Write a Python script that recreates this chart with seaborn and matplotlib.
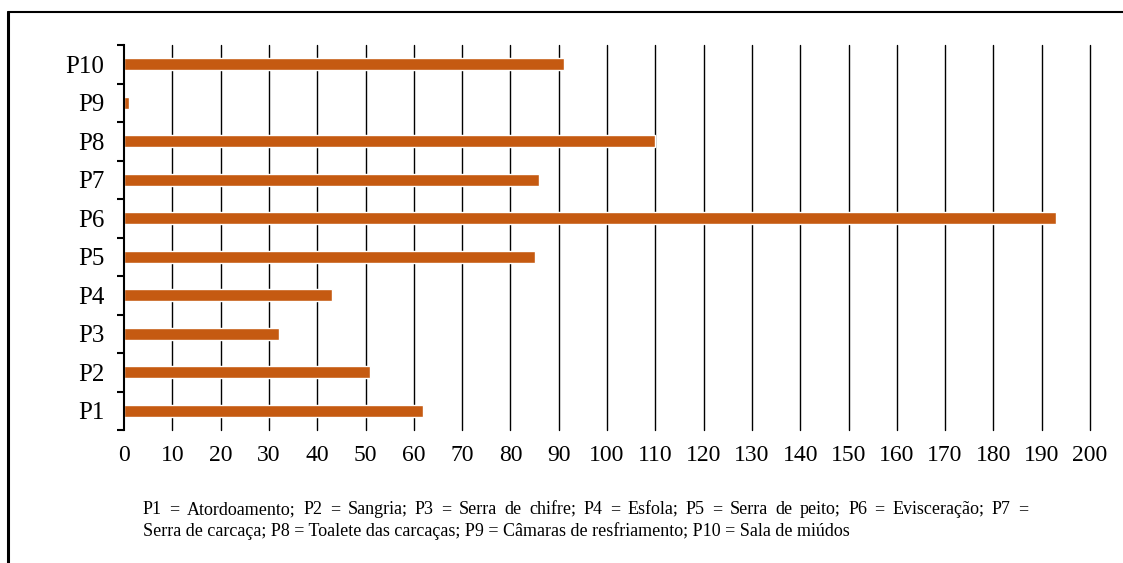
import matplotlib
matplotlib.use("Agg")
import matplotlib.pyplot as plt
from matplotlib.lines import Line2D
import seaborn as sns
import pandas as pd
import numpy as np

# Points along the slaughter line and their measured values
categories = ["P10", "P9", "P8", "P7", "P6", "P5", "P4", "P3", "P2", "P1"]
values = [91, 1, 110, 86, 193, 85, 43, 32, 51, 62]
x_ticks = list(range(0, 201, 10))
footnote_lines = [
    "P1 = Atordoamento; P2 = Sangria; P3 = Serra de chifre; P4 = Esfola; P5 = Serra de peito; P6 = Evisceração; P7 =",
    "Serra de carcaça; P8 = Toalete das carcaças; P9 = Câmaras de resfriamento; P10 = Sala de miúdos",
]

sns.set_style("white")
plt.rcParams["font.family"] = ["Liberation Serif", "DejaVu Serif"]
plt.rcParams["text.color"] = "black"

df = pd.DataFrame({"ponto": categories, "valor": values})

W, H = 1123, 563
fig = plt.figure(figsize=(W / 100, H / 100), dpi=100)
ax = fig.add_axes([124 / W, 1 - 430 / H, (1090 - 124) / W, (430 - 45) / H])

sns.barplot(data=df, x="valor", y="ponto", order=categories, orient="h",
            color="#C55A11", saturation=1, width=0.3, ax=ax, zorder=3)

ax.set_xlim(0, 200)
ax.set_ylim(len(categories) - 0.5, -0.5)
ax.set_xticks(x_ticks)
ax.set_xticklabels([str(t) for t in x_ticks], fontsize=17, color="black")
ax.tick_params(axis="x", length=0, pad=11)

# category labels without marks; marks sit on the category boundaries
ax.set_yticks(np.arange(len(categories)))
ax.set_yticklabels(categories, fontsize=18, color="black")
ax.tick_params(axis="y", which="major", left=False, length=0, pad=14)
ax.set_yticks(np.arange(len(categories) + 1) - 0.5, minor=True)
ax.tick_params(axis="y", which="minor", left=True, length=5, width=1.5,
               color="black", direction="out")

ax.set_xlabel("")
ax.set_ylabel("")

ax.grid(False)
for t in x_ticks[1:]:
    ax.axvline(t, color="black", linewidth=1, zorder=1, clip_on=False)

for side in ["top", "right", "bottom"]:
    ax.spines[side].set_visible(False)
ax.spines["left"].set_color("black")
ax.spines["left"].set_linewidth(1.5)
ax.spines["left"].set_zorder(4)

# outer frame (top and left edges)
fig.add_artist(Line2D([8 / W, 8 / W], [0, 1 - 12 / H], color="black", linewidth=2.2,
                      transform=fig.transFigure))
fig.add_artist(Line2D([8 / W, 1], [1 - 12 / H, 1 - 12 / H], color="black", linewidth=1.5,
                      transform=fig.transFigure))

# footnote: first line justified between the margins, second line left aligned
fs = 13
x0, x1 = 143, 1028
renderer = fig.canvas.get_renderer()
words = footnote_lines[0].split(" ")
probes = [fig.text(0, 0, w, fontsize=fs) for w in words]
widths = [p.get_window_extent(renderer).width for p in probes]
for p in probes:
    p.remove()
gap = (x1 - x0 - sum(widths)) / (len(words) - 1)
x = x0
for w, wd in zip(words, widths):
    fig.text(x / W, 1 - 510 / H, w, fontsize=fs, va="center", ha="left", color="black")
    x += wd + gap
fig.text(x0 / W, 1 - 531 / H, footnote_lines[1], fontsize=fs, va="center", ha="left",
         color="black")

fig.savefig("out.png", dpi=100)
